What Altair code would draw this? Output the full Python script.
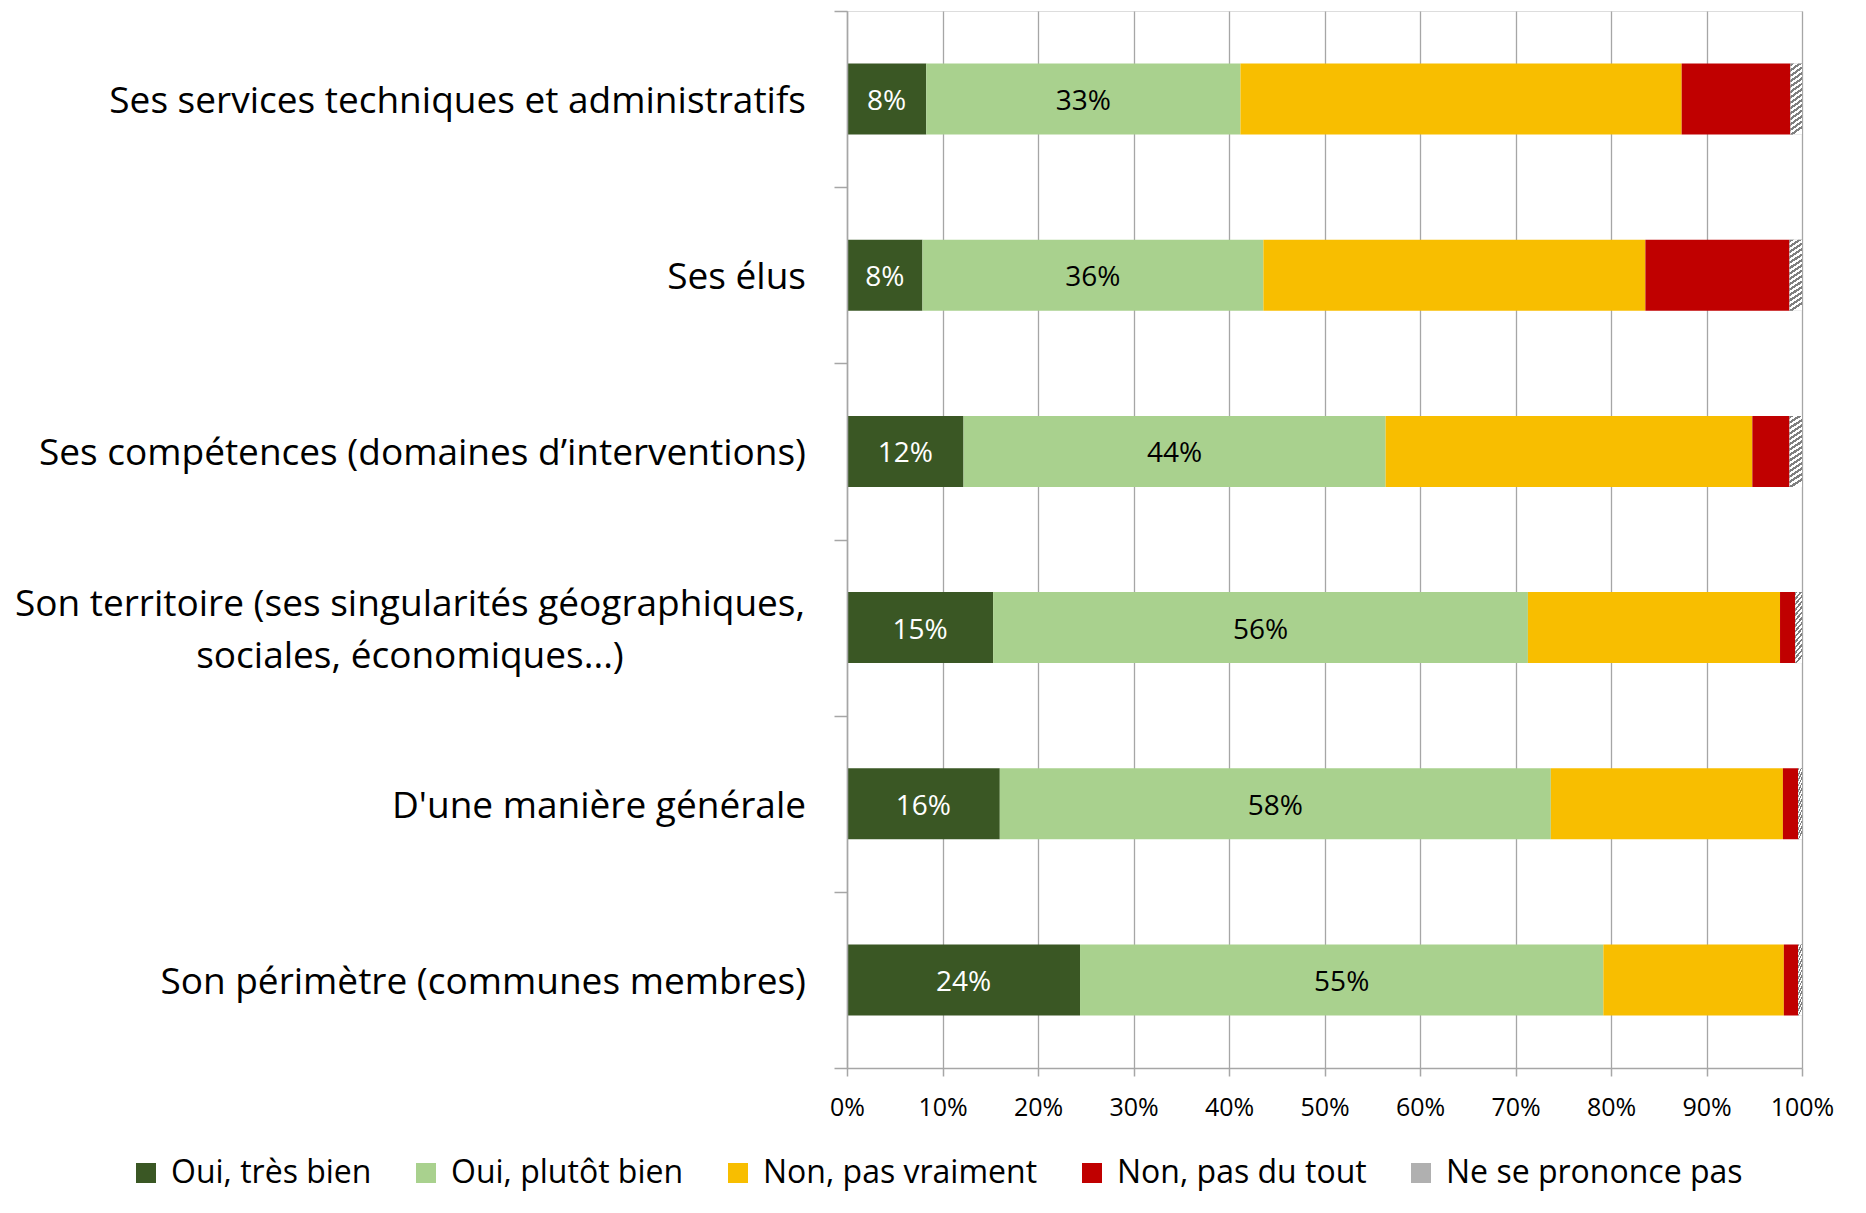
import altair as alt
import pandas as pd

categories = [
    "Ses services techniques et administratifs",
    "Ses élus",
    "Ses compétences (domaines d’interventions)",
    "Son territoire (ses singularités géographiques,\nsociales, économiques...)",
    "D'une manière générale",
    "Son périmètre (communes membres)",
]
series_names = ["Oui, très bien", "Oui, plutôt bien", "Non, pas vraiment",
                "Non, pas du tout", "Ne se prononce pas"]

oui_tres_bien = [8.3, 7.9, 12.2, 15.3, 16.0, 24.4]
oui_plutot_bien = [32.9, 35.7, 44.2, 56.0, 57.7, 54.8]
non_pas_vraiment = [46.2, 40.0, 38.4, 26.4, 24.3, 18.9]
non_pas_du_tout = [11.4, 15.1, 3.9, 1.6, 1.6, 1.5]
ne_se_prononce_pas = [1.2, 1.3, 1.3, 0.7, 0.4, 0.4]

series_values = [oui_tres_bien, oui_plutot_bien, non_pas_vraiment,
                 non_pas_du_tout, ne_se_prononce_pas]
colors = ["#3A5724", "#A9D18E", "#F8BE00", "#C00000", "#B0B0B0"]

rows = []
for i, cat in enumerate(categories):
    acc = 0.0
    for j, name in enumerate(series_names):
        v = series_values[j][i]
        rows.append({"cat": cat, "series": name, "value": v,
                     "start": acc, "end": acc + v, "mid": acc + v / 2,
                     "label": f"{round(v):d}%"})
        acc += v
df = pd.DataFrame(rows)

FONT = "Open Sans"
GRAY = "#A6A6A6"

y_main = alt.Y(
    "cat:N", sort=categories,
    scale=alt.Scale(paddingInner=0, paddingOuter=0),
    axis=alt.Axis(labels=False, title=None, grid=False, tickBand="extent",
                  tickSize=13, tickColor=GRAY, tickWidth=1.5,
                  domainColor=GRAY, domainWidth=1.5, zindex=1),
)
y_plain = alt.Y("cat:N", sort=categories)

x_main = alt.X(
    "start:Q",
    scale=alt.Scale(domain=[0, 100], nice=False),
    axis=alt.Axis(values=list(range(0, 101, 10)), labelExpr="datum.value + '%'",
                  title=None, grid=True, gridColor=GRAY, gridWidth=1.3,
                  tickSize=8, tickColor=GRAY, tickWidth=1.5,
                  domainColor=GRAY, domainWidth=1.5, labelFlush=False,
                  labelFont=FONT, labelFontSize=25, labelColor="black",
                  labelPadding=19),
)

bars = alt.Chart(df).mark_bar(size=71).encode(
    y=y_main,
    x=x_main,
    x2="end:Q",
    color=alt.Color(
        "series:N",
        scale=alt.Scale(domain=series_names, range=colors),
        legend=alt.Legend(orient="none", direction="horizontal",
                          legendX=-717, legendY=1146, title=None,
                          symbolType="square", symbolSize=400,
                          symbolStrokeWidth=0, labelFont=FONT,
                          labelFontSize=32, labelColor="black",
                          labelOffset=9, columnPadding=38, labelLimit=0),
    ),
)

# diagonal hatch for "Ne se prononce pas"
n_stripes = 14
stops = []
for k in range(n_stripes):
    a = k / n_stripes
    b = (k + 0.5) / n_stripes
    c = (k + 1) / n_stripes
    stops += [
        {"offset": a, "color": "#7F7F7F"},
        {"offset": b, "color": "#7F7F7F"},
        {"offset": b, "color": "#FFFFFF"},
        {"offset": c, "color": "#FFFFFF"},
    ]
hatch_fill = {"gradient": "linear", "x1": 0, "y1": 0, "x2": 0.12, "y2": 1.05,
              "stops": stops}

hatch = alt.Chart(df).transform_filter(
    alt.datum.series == "Ne se prononce pas"
).mark_bar(size=71, fill=hatch_fill).encode(
    y=y_plain, x="start:Q", x2="end:Q"
)

lab_dark = alt.Chart(df).transform_filter(
    alt.datum.series == "Oui, très bien"
).mark_text(font=FONT, fontSize=28, color="white", baseline="middle", dy=3).encode(
    y=y_plain, x="mid:Q", text="label:N"
)
lab_light = alt.Chart(df).transform_filter(
    alt.datum.series == "Oui, plutôt bien"
).mark_text(font=FONT, fontSize=28, color="black", baseline="middle", dy=3).encode(
    y=y_plain, x="mid:Q", text="label:N"
)

single_df = pd.DataFrame({"cat": [c for c in categories if "\n" not in c]})
multi_df = pd.DataFrame({"cat": [c for c in categories if "\n" in c]})

cat_single = alt.Chart(single_df).mark_text(
    font=FONT, fontSize=37, color="black", align="right", baseline="middle", dy=3
).encode(y=y_plain, x=alt.value(-41), text="cat:N")

cat_multi = alt.Chart(multi_df).mark_text(
    font=FONT, fontSize=37, color="black", align="center", baseline="middle",
    lineBreak="\n", lineHeight=52, dy=-23
).encode(y=y_plain, x=alt.value(-437), text="cat:N")

chart = alt.layer(bars, hatch, lab_dark, lab_light, cat_single, cat_multi).properties(
    width=955, height=1057,
    autosize=alt.AutoSizeParams(type="none"),
    padding={"left": 839, "top": 3, "right": 40, "bottom": 130},
).configure_view(stroke=None).configure(background="white")

chart.save("out.html", embed_options={"renderer": "svg", "actions": False})
